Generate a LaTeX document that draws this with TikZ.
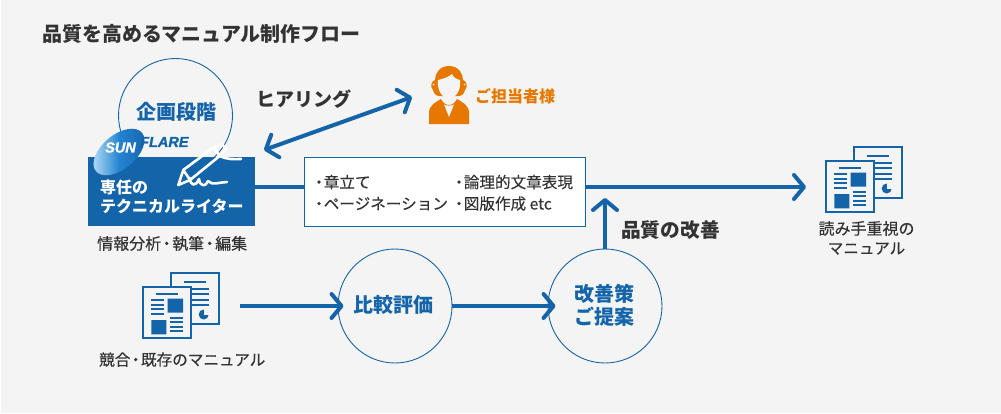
\documentclass[tikz,border=0pt]{standalone}
\usepackage{fontspec}
\setmainfont{Noto Sans CJK JP}
\newfontfamily\logofont{Liberation Sans}
\usetikzlibrary{arrows.meta}
\definecolor{flowblue}{HTML}{1464AA}
\definecolor{paneback}{HTML}{F4F4F4}
\definecolor{labelgray}{HTML}{333333}
\definecolor{staffOrange}{HTML}{E67800}
\definecolor{logolight}{HTML}{BFE4F8}
\definecolor{logomid}{HTML}{2484D2}
\newcommand{\dotsep}{\kern-2.5pt・\kern-2.5pt}
\tikzset{
	label/.style={anchor=west,inner sep=0pt,text height=.9em,text depth=0pt,text=labelgray,font=\addfontfeature{FakeBold=0.25}\fontsize{#1}{#1}\selectfont},
	head/.style={anchor=west,inner sep=0pt,text height=.9em,text depth=0pt,text=labelgray,font=\bfseries\fontsize{#1}{#1}\selectfont},
	stage/.style={circle,draw=flowblue,line width=.9pt,minimum size=114pt,inner sep=0pt},
	logo/.style={anchor=west,inner sep=0pt,font=\logofont\bfseries\itshape\addfontfeature{FakeBold=1.5}\fontsize{#1}{#1}\selectfont},
	flow/.style={draw=flowblue,line width=4pt},
	flowtip/.style={-{Straight Barb[length=10pt,width=24pt,line width=4pt,round]}},
	docicon/.pic={
		\draw[flowblue,line width=2pt,fill=paneback] (28,-14) rectangle (76,37);
		\draw[flowblue,line width=1.7pt] (41,-5) -- (63,-5) (48,2.3) -- (66,2.3) (48,7.3) -- (66,7.3) (48,13) -- (66,13) (48,18.3) -- (66,18.3);
		\fill[flowblue] (60.7,27.5) circle (5pt);
		\fill[paneback] (60.7,27.5) rectangle (66.5,21.5);
		\draw[flowblue,line width=2pt,fill=paneback] (0,0) rectangle (48,51);
		\fill[flowblue] (24.7,11.7) rectangle (40,25.7) (8.3,33) rectangle (23.3,47.3);
		\draw[flowblue,line width=1.7pt] (13,7) -- (35,7) (8,13.3) -- (21,13.3) (8,18) -- (21,18) (8,22.3) -- (21,22.3) (8,26.7) -- (21,26.7)
			(27.3,31.3) -- (40,31.3) (27.3,35.3) -- (40,35.3) (27.3,39.7) -- (40,39.7) (27.3,44) -- (40,44);
	}
}
\begin{document}
\begin{tikzpicture}[x=1pt,y=-1pt]
	\useasboundingbox (0,0) rectangle (1001,413);
	\fill[paneback] (1,0) rectangle (1001,413);
	\node[head=20] (title) at (42,37) {品質を高めるマニュアル制作フロー};

	% planning stage, writer box and logo
	\node[stage] (planning) at (175.5,115.5) {};
	\node[head=20,text=flowblue] (planningtext) at (136,115) {企画段階};
	\node[anchor=north west,fill=flowblue,minimum width=167pt,minimum height=69pt,inner sep=0pt] (writer) at (88,157) {};
	\node[head=16,text=white] (writerone) at (100,189) {専任の};
	\node[head=16,text=white] (writertwo) at (100,208) {テクニカルライター};
	\shade[rotate around={40:(119,152)},left color=logolight,right color=flowblue,middle color=logomid] (119,152) ellipse [x radius=30pt,y radius=17pt];
	\node[logo=14.5,text=white] (logosun) at (105,147.5) {SUN};
	\node[logo=14.5,text=flowblue] (logoflare) at (140,142) {FLARE};

	% pen and hand
	\draw[white,line width=2.6pt,line join=round,line cap=round] (178.3,185) -- (183.3,170) -- (213.3,147.7) -- (221.7,144.3) -- (226.7,149) -- (220,155.7) -- (190,180) -- cycle
		(213.3,148) -- (220,155.7) (183.3,170) -- (190,180)
		(220,156) .. controls (228,160) and (234,159) .. (241,159)
		(190,178) .. controls (190,186) and (196,187) .. (199,179) .. controls (200,187) and (206,187) .. (208,181) .. controls (212,186) and (220,182) .. (227,182);
	\node[label=16] (writernote) at (97,245) {情報分析\dotsep 執筆\dotsep 編集};

	% hearing
	\node[head=19] (hearing) at (256.5,102) {ヒアリング};
	\coordinate (hearingL) at (264,150);
	\coordinate (hearingR) at (412,97);
	\draw[flow,{Straight Barb[length=10pt,width=24pt,line width=4pt,round]}-{Straight Barb[length=10pt,width=24pt,line width=4pt,round]}] (hearingL) -- (hearingR);

	% person in charge
	\fill[staffOrange] (449,66) .. controls (439,66) and (435,74) .. (435,80) .. controls (431,81) and (430,87) .. (433,90) .. controls (434,94) and (436,96) .. (440,96) -- (458,96) .. controls (462,96) and (464,94) .. (465,90) .. controls (468,87) and (467,81) .. (463,80) .. controls (463,74) and (459,66) .. (449,66) -- cycle;
	\fill[paneback] (438,80) .. controls (444,79) and (450,76) .. (452,74) .. controls (453,77) and (456,79) .. (460,80) .. controls (461,91) and (456,98) .. (449,98) .. controls (442,98) and (437,91) .. (438,80) -- cycle;
	\fill[paneback] (433.5,84.5) circle (1pt) (464.5,84.5) circle (1pt);
	\fill[staffOrange] (429,124) -- (429,113) .. controls (429,105) and (436,102) .. (441,99) .. controls (443,103) and (446,105) .. (449,105) .. controls (452,105) and (455,103) .. (457,99) .. controls (462,102) and (469,105) .. (469,113) -- (469,124) -- cycle;
	\fill[paneback] (444,104.5) -- (449,117) -- (454,104.5) .. controls (451,106) and (447,106) .. (444,104.5) -- cycle;
	\node[head=16,text=staffOrange] (staff) at (475,98) {ご担当者様};

	% contents box
	\node[anchor=north west,draw=flowblue,line width=.9pt,fill=white,minimum width=281pt,minimum height=69pt,inner sep=0pt] (contents) at (304,157) {};
	\node[label=15.6] (itema) at (311,183.5) {・\kern-3pt 章立て};
	\node[label=15.6] (itemb) at (311,205) {・\kern-3pt ページネーション};
	\node[label=15.6] (itemc) at (451,183.5) {・\kern-3pt 論理的文章表現};
	\node[label=15.6] (itemd) at (451,205) {・\kern-3pt 図版作成 etc};

	% result document
	\coordinate (flowlevel) at (0,187);
	\coordinate (resultarrow) at (806,187);
	\draw[flow] (writer.east |- flowlevel) -- (contents.west |- flowlevel);
	\draw[flow,flowtip] (contents.east |- flowlevel) -- (resultarrow);
	\pic at (826,161) {docicon};
	\node[label=16,anchor=center] (resulta) at (866.5,230) {読み手重視の};
	\node[label=15.6,anchor=center] (resultb) at (866.5,249.5) {マニュアル};

	% comparison row
	\pic at (143,287) {docicon};
	\node[label=15.6] (rivals) at (99,361) {競合\dotsep 既存のマニュアル};
	\node[stage] (compare) at (395,306) {};
	\node[head=20,text=flowblue] (comparetext) at (353.5,308) {比較評価};
	\node[stage] (improve) at (605,306) {};
	\node[head=20,text=flowblue] (improvetop) at (574,297) {改善策};
	\node[head=20,text=flowblue] (improvebottom) at (574,320) {ご提案};
	\coordinate (rivalsarrow) at (240,306);
	\coordinate (raisetip) at (605,198);
	\draw[flow,flowtip] (rivalsarrow) -- ([xshift=6pt]compare.west);
	\draw[flow,flowtip] (compare.east) -- ([xshift=8pt]improve.west);
	\draw[flow,flowtip] (improve.north) -- (raisetip);
	\node[head=19.7] (raise) at (621,233) {品質の改善};
\end{tikzpicture}
\end{document}
